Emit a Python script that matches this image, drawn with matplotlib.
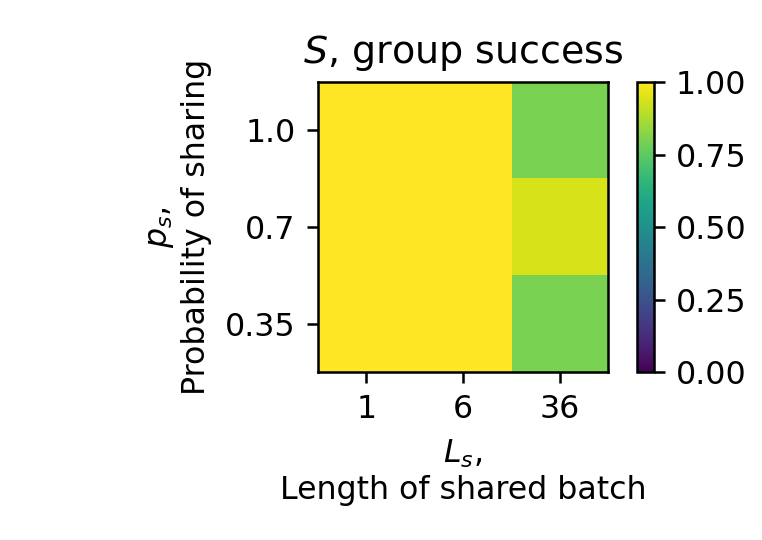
import matplotlib
matplotlib.use("Agg")
import matplotlib.pyplot as plt
import numpy as np

Ls_labels = ["1", "6", "36"]
ps_labels = ["1.0", "0.7", "0.35"]
# rows: ps = 1.0, 0.7, 0.35 (top to bottom); cols: Ls = 1, 6, 36
S = np.array([
    [1.0, 1.0, 0.80],
    [1.0, 1.0, 0.94],
    [1.0, 1.0, 0.80],
])

DPI = 228
fig = plt.figure(figsize=(762 / DPI, 540 / DPI), dpi=DPI)
ax = fig.add_axes([0.417, 0.311, 0.381, 0.537])
cax = fig.add_axes([0.836, 0.311, 0.022, 0.537])

im = ax.imshow(S, cmap="viridis", vmin=0, vmax=1, aspect="auto")
ax.set_xticks(range(len(Ls_labels)))
ax.set_xticklabels(Ls_labels)
ax.set_yticks(range(len(ps_labels)))
ax.set_yticklabels(ps_labels)
ax.set_xlabel("$L_s$,\nLength of shared batch")
ax.set_ylabel("$p_s$,\nProbability of sharing")
ax.set_title("$S$, group success")

cb = fig.colorbar(im, cax=cax)
cb.set_ticks([0, 0.25, 0.5, 0.75, 1.0])
cb.set_ticklabels(["0.00", "0.25", "0.50", "0.75", "1.00"])

fig.savefig("out.png", dpi=DPI)
